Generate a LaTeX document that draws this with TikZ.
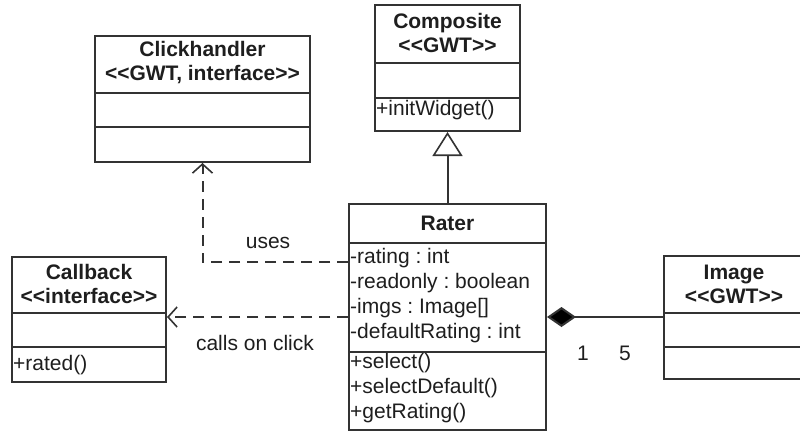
\documentclass[tikz,border=0pt]{standalone}
\usepackage{fontspec}
\setmainfont{Liberation Sans}
\usetikzlibrary{arrows.meta}
\definecolor{ink}{HTML}{333333}
\definecolor{txt}{HTML}{1E1E1E}
% guillemet-free stereotype brackets
\newcommand{\stereo}[1]{<\kern0pt<#1>\kern0pt>}
\tikzset{
  cls/.style={draw=ink, line width=2pt, fill=white, inner sep=0pt},
  sep/.style={draw=ink, line width=2pt},
  title/.style={font=\fontsize{21}{24}\selectfont\bfseries, text=txt, align=center, inner sep=0pt},
  member/.style={font=\fontsize{21}{25}\selectfont, text=txt, anchor=base west, inner sep=0pt},
  lbl/.style={font=\fontsize{21}{25}\selectfont, text=txt, anchor=base, inner sep=0pt},
  dep/.style={draw=ink, line width=2pt, dash pattern=on 11pt off 7pt, -{Straight Barb[length=9pt,width=20pt,line width=1.6pt]}},
  gen/.style={draw=ink, line width=2pt, -{Triangle[open, length=24pt, width=30pt, fill=white, line width=1.6pt]}},
  comp/.style={draw=ink, line width=2pt, {Diamond[length=29pt, width=20pt, fill=black]}-},
}
\begin{document}
\frenchspacing
\begin{tikzpicture}[x=1pt, y=-1pt]
\useasboundingbox (0,0) rectangle (800,432);
\fill[white] (0,0) rectangle (800,432);
\begin{scope}
\clip (0,0) rectangle (800,432);

% Clickhandler
\node[cls, minimum width=215pt, minimum height=126pt] (click) at (202.5,99) {};
\draw[sep] (95,93) -- (310,93);
\draw[sep] (95,127) -- (310,127);
\node[title] (clickname) at (202.5,63) {Clickhandler\\\stereo{GWT, interface}};

% Composite
\node[cls, minimum width=145pt, minimum height=126pt] (composite) at (447.5,68) {};
\draw[sep] (375,63) -- (520,63);
\draw[sep] (375,98) -- (520,98);
\node[title] (compname) at (447.5,33) {Composite\\\stereo{GWT}};
\node[member] (compop) at (376,115) {+initWidget()};

% Callback
\node[cls, minimum width=154pt, minimum height=125pt] (callback) at (89,319.5) {};
\draw[sep] (12,313) -- (166,313);
\draw[sep] (12,347) -- (166,347);
\node[title] (cbname) at (89,284) {Callback\\\stereo{interface}};
\node[member] (cbop) at (13,370) {+rated()};

% Rater
\node[cls, minimum width=197pt, minimum height=226pt] (rater) at (447.5,317) {};
\draw[sep] (349,243) -- (546,243);
\draw[sep] (349,352) -- (546,352);
\node[title] (ratername) at (447.5,223.5) {Rater};
\node[member] (ra1) at (350,263) {-rating : int};
\node[member] (ra2) at (350,288) {-readonly : boolean};
\node[member] (ra3) at (350,313) {-imgs : Image[]};
\node[member] (ra4) at (350,338) {-defaultRating : int};
\node[member] (ro1) at (350,368) {+select()};
\node[member] (ro2) at (350,393) {+selectDefault()};
\node[member] (ro3) at (350,418) {+getRating()};

% Image
\node[cls, minimum width=140pt, minimum height=123pt] (image) at (734,317.5) {};
\draw[sep] (664,313) -- (804,313);
\draw[sep] (664,347) -- (804,347);
\node[title] (imgname) at (734,284) {Image\\\stereo{GWT}};

% Relations
\draw[gen] (rater.north) -- (composite.south);
\draw[dep] ([yshift=55pt]rater.west) -| (click.south);
\draw[dep] (rater.west) -- (rater.west -| callback.east);
\draw[comp] (rater.east) -- (rater.east -| image.west);

\node[lbl] (uses) at (268,248) {uses};
\node[lbl] (calls) at (255,350) {calls on click};
\node[lbl] (mult1) at (583,360) {1};
\node[lbl] (mult5) at (625,360) {5};
\end{scope}
\end{tikzpicture}
\end{document}
